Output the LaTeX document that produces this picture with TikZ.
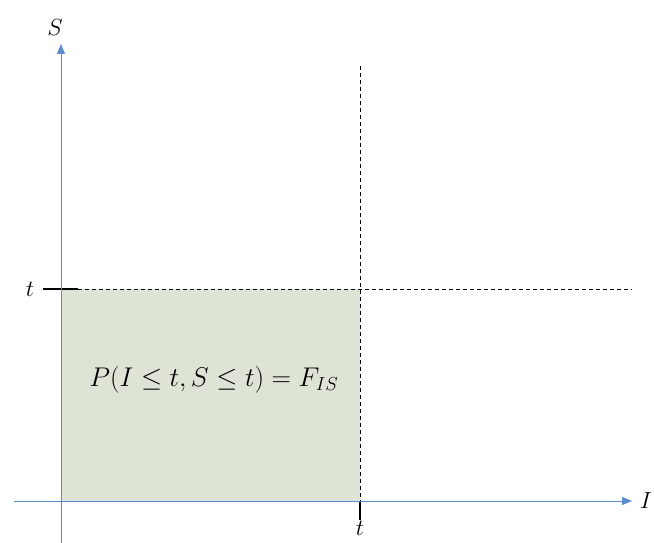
\documentclass[tikz,border=0pt]{standalone}
\usetikzlibrary{arrows.meta}
\definecolor{axisblue}{RGB}{91,140,205}
\definecolor{regiongreen}{RGB}{221,228,214}
\begin{document}
\begin{tikzpicture}[x=1pt,y=-1pt,
  axis/.style={draw=axisblue,line width=0.9pt,-{Triangle[length=10pt,width=8pt]}},
  guide/.style={draw=black,line width=0.9pt,dash pattern=on 4pt off 3pt},
  tickline/.style={draw=black,line width=1.1pt},
  lbl/.style={font=\LARGE,scale=1.35}]
\useasboundingbox (0,0) rectangle (654,543);
\fill[regiongreen] (61,289) rectangle (360,501);
\coordinate (o) at (61,501);
\coordinate (xend) at (632,501);
\coordinate (yend) at (61,44);
\coordinate (xstart) at (14,501);
\coordinate (ystart) at (61,543);
\coordinate (vtop) at (360,66);
\coordinate (vbot) at (360,501);
\coordinate (vtick) at (360,520);
\coordinate (hleft) at (43,289);
\coordinate (hmid) at (78,289);
\coordinate (hend) at (632,289);
\draw[guide] (vtop) -- (vbot);
\draw[tickline] (vbot) -- (vtick);
\draw[guide] (hmid) -- (hend);
\draw[tickline] (hleft) -- (hmid);
\draw[axis] (xstart) -- (xend);
\draw[axis] (ystart) -- (yend);
\node[lbl] (S) at (55,28) {$S$};
\node[lbl] (I) at (646,501) {$I$};
\node[lbl] (tl) at (30,289) {$t$};
\node[lbl] (tb) at (360,528) {$t$};
\node[lbl,scale=1.16] (f) at (214,380) {$P(I\leq t,S\leq t)=F_{IS}$};
\end{tikzpicture}
\end{document}
